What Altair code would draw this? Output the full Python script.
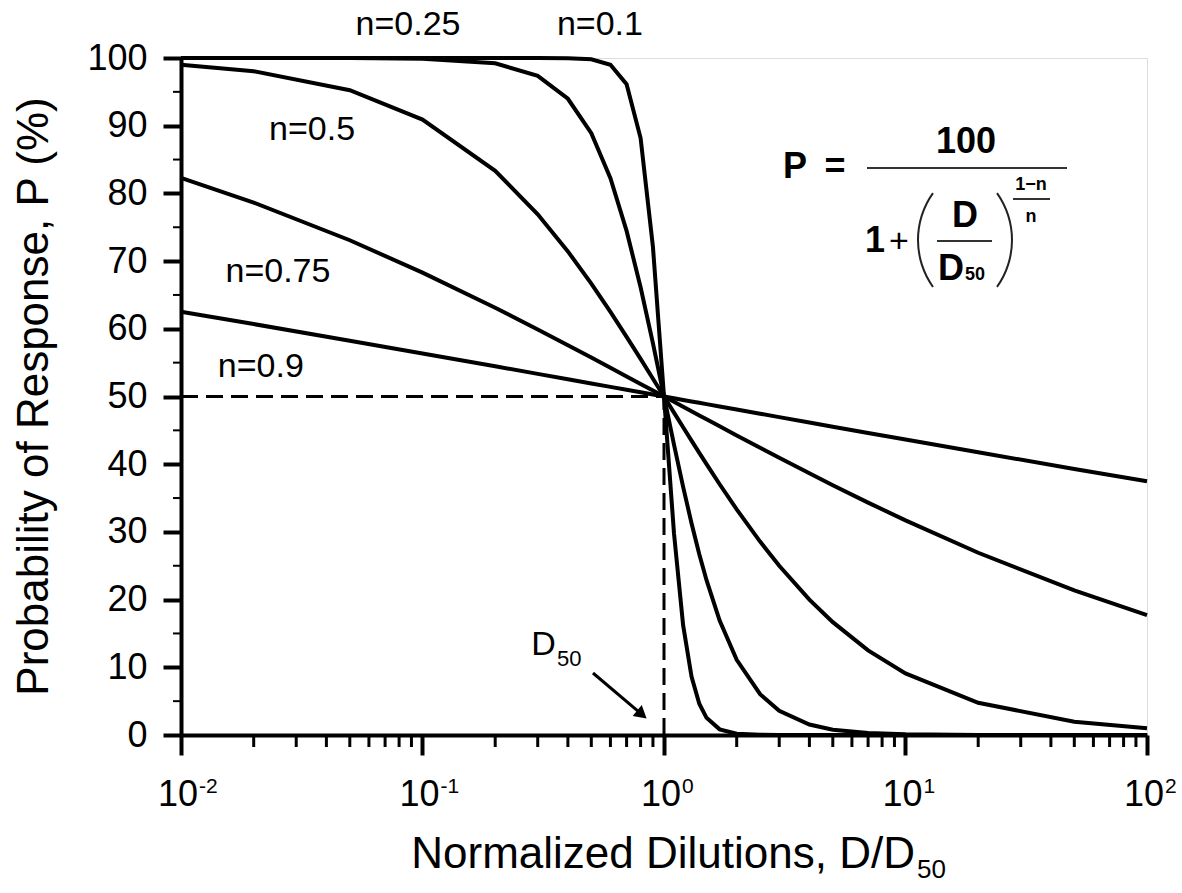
import altair as alt
import pandas as pd

FONT = "Liberation Sans"

# Normalized dilution D/D50 sample points
X = [0.01, 0.02, 0.05, 0.1, 0.2, 0.3, 0.4, 0.5, 0.6, 0.7, 0.8, 0.9, 1.0, 1.1, 1.2,
     1.3, 1.4, 1.5, 1.7, 2.0, 2.5, 3.0, 4.0, 5.0, 7.0, 10, 20, 50, 100]

# Probability of response P (%) for each n
P_N01 = [100.0, 100.0, 100.0, 100.0, 100.0, 100.0, 99.97, 99.81, 99.0, 96.12, 88.17, 72.08, 50.0,
         29.78, 16.23, 8.62, 4.62, 2.54, 0.84, 0.19, 0.03, 0.0, 0.0, 0.0, 0.0, 0.0, 0.0, 0.0, 0.0]
P_N025 = [100.0, 100.0, 99.99, 99.9, 99.21, 97.37, 93.98, 88.89, 82.24, 74.46, 66.14, 57.84, 50.0,
          42.9, 36.66, 31.28, 26.71, 22.86, 16.91, 11.11, 6.02, 3.57, 1.54, 0.79, 0.29, 0.1, 0.01, 0.0, 0.0]
P_N05 = [99.01, 98.04, 95.24, 90.91, 83.33, 76.92, 71.43, 66.67, 62.5, 58.82, 55.56, 52.63, 50.0,
         47.62, 45.45, 43.48, 41.67, 40.0, 37.04, 33.33, 28.57, 25.0, 20.0, 16.67, 12.5, 9.09, 4.76, 1.96, 0.99]
P_N075 = [82.28, 78.65, 73.08, 68.3, 63.1, 59.9, 57.58, 55.75, 54.25, 52.97, 51.86, 50.88, 50.0,
          49.21, 48.48, 47.81, 47.2, 46.63, 45.59, 44.25, 42.42, 40.95, 38.65, 36.9, 34.33, 31.7, 26.92, 21.35, 17.72]
P_N09 = [62.52, 60.7, 58.24, 56.36, 54.46, 53.34, 52.54, 51.92, 51.42, 50.99, 50.62, 50.29, 50.0,
         49.74, 49.49, 49.27, 49.07, 48.87, 48.52, 48.08, 47.46, 46.95, 46.16, 45.54, 44.62, 43.64, 41.76, 39.3, 37.48]

N_VALUES = ["0.1", "0.25", "0.5", "0.75", "0.9"]
SERIES = [P_N01, P_N025, P_N05, P_N075, P_N09]

# curve labels (text, x position, y position)
LABEL_TEXT = ["n=0.25", "n=0.1", "n=0.5", "n=0.75", "n=0.9"]
LABEL_X = [0.0871, 0.543, 0.0349, 0.0252, 0.0214]
LABEL_Y = [104.9, 104.9, 89.4, 68.4, 54.4]

# axes
X_MAJOR = [0.01, 0.1, 1, 10, 100]
X_EXP = ["-2", "-1", "0", "1", "2"]
X_MINOR = [m * d for d in [0.01, 0.1, 1, 10] for m in range(2, 10)]
Y_MAJOR = list(range(0, 101, 10))
Y_MINOR = list(range(5, 100, 10))

# reference lines at D50
REF_X = [0.01, 1.0]
REF_Y = [0, 50]

# arrow pointing at D50
ARROW_X = [0.508, 0.798]
ARROW_Y = [9.16, 3.23]

W, H = 966, 677
LW = 4

rows = []
for n, ser in zip(N_VALUES, SERIES):
    for xv, pv in zip(X, ser):
        rows.append({"n": n, "x": xv, "p": pv})
curves_df = pd.DataFrame(rows)

xscale = alt.Scale(type="log", domain=[0.01, 100], nice=False)
yscale = alt.Scale(domain=[0, 100], nice=False, zero=False)

xenc = alt.X("x:Q", scale=xscale,
             axis=alt.Axis(values=X_MAJOR, labels=False, title=None, grid=False,
                           tickSize=20, tickWidth=LW, domainWidth=LW,
                           tickColor="black", domainColor="black"))
yenc = alt.Y("p:Q", scale=yscale,
             axis=alt.Axis(values=Y_MAJOR, title=None, grid=False, tickSize=18, tickWidth=LW,
                           domainWidth=LW, tickColor="black", domainColor="black",
                           labelFont=FONT, labelFontSize=36, labelColor="black",
                           labelPadding=16))

curves = alt.Chart(curves_df).mark_line(color="black", strokeWidth=LW).encode(
    x=xenc, y=yenc, detail="n:N", order="x:Q"
)

ref_df = pd.DataFrame({
    "x": [REF_X[0], REF_X[1]], "x2": [REF_X[1], REF_X[1]],
    "p": [REF_Y[1], REF_Y[0]], "p2": [REF_Y[1], REF_Y[1]],
})
refs = alt.Chart(ref_df).mark_rule(color="black", strokeWidth=3, strokeDash=[17, 8]).encode(
    x=alt.X("x:Q", scale=xscale), x2="x2:Q",
    y=alt.Y("p:Q", scale=yscale), y2="p2:Q",
)

xminor = alt.Chart(pd.DataFrame({"x": X_MINOR})).mark_rule(color="black", strokeWidth=3).encode(
    x=alt.X("x:Q", scale=xscale), y=alt.value(H), y2=alt.value(H + 12)
)
yminor = alt.Chart(pd.DataFrame({"p": Y_MINOR})).mark_rule(color="black", strokeWidth=2).encode(
    y=alt.Y("p:Q", scale=yscale), x=alt.value(-8), x2=alt.value(0)
)

tick_df = pd.DataFrame({"x": X_MAJOR, "base": ["10"] * 5, "exp": X_EXP})
xlab_base = alt.Chart(tick_df).mark_text(font=FONT, fontSize=36, align="right",
                                          baseline="alphabetic", dx=17, color="black").encode(
    x=alt.X("x:Q", scale=xscale), y=alt.value(H + 71), text="base:N"
)
xlab_exp = alt.Chart(tick_df).mark_text(font=FONT, fontSize=21, align="left",
                                         baseline="alphabetic", dx=18, color="black").encode(
    x=alt.X("x:Q", scale=xscale), y=alt.value(H + 58), text="exp:N"
)

lab_df = pd.DataFrame({"t": LABEL_TEXT, "x": LABEL_X, "p": LABEL_Y})
labels = alt.Chart(lab_df).mark_text(font=FONT, fontSize=34, align="center",
                                      baseline="middle", color="black").encode(
    x=alt.X("x:Q", scale=xscale), y=alt.Y("p:Q", scale=yscale), text="t:N"
)

arrow_df = pd.DataFrame({"x": ARROW_X, "p": ARROW_Y})
arrow_line = alt.Chart(arrow_df).mark_line(color="black", strokeWidth=3).encode(
    x=alt.X("x:Q", scale=xscale), y=alt.Y("p:Q", scale=yscale)
)
arrow_head = alt.Chart(arrow_df.iloc[[1]]).mark_point(
    shape="triangle", filled=True, color="black", size=200, angle=130, opacity=1
).encode(x=alt.X("x:Q", scale=xscale), y=alt.Y("p:Q", scale=yscale))

d50_df = pd.DataFrame({"t": ["D", "50"], "x": [0.317, 0.3605], "p": [11.8, 10.2]})
d50_D = alt.Chart(d50_df.iloc[[0]]).mark_text(font=FONT, fontSize=34, align="center",
                                               baseline="alphabetic", color="black").encode(
    x=alt.X("x:Q", scale=xscale), y=alt.Y("p:Q", scale=yscale), text="t:N")
d50_s = alt.Chart(d50_df.iloc[[1]]).mark_text(font=FONT, fontSize=22, align="left",
                                               baseline="alphabetic", color="black").encode(
    x=alt.X("x:Q", scale=xscale), y=alt.Y("p:Q", scale=yscale), text="t:N")

one = pd.DataFrame({"a": [0]})


def txt(text, x, y, size, weight="normal", align="center", baseline="alphabetic", angle=0):
    kw = dict(text=text, font=FONT, fontSize=size, fontWeight=weight, align=align,
              baseline=baseline, color="black")
    if angle:
        kw["angle"] = angle
    return alt.Chart(one).mark_text(**kw).encode(x=alt.value(x), y=alt.value(y))


def hbar(x1, x2, y, w=2):
    return alt.Chart(one).mark_rule(color="#333333", strokeWidth=w).encode(
        x=alt.value(x1), x2=alt.value(x2), y=alt.value(y))


def paren(cx, cy, t1, t2):
    return alt.Chart(one).mark_arc(theta=t1, theta2=t2, innerRadius=80, outerRadius=82,
                                   color="#222222").encode(x=alt.value(cx), y=alt.value(cy))


formula = [
    txt("P", 614, 120, 36, "bold"),
    txt("=", 654, 120, 36, "bold"),
    txt("100", 785, 95, 36, "bold"),
    hbar(686, 886, 110),
    txt("1", 694, 194, 36, "bold"),
    txt("+", 718, 194, 34),
    paren(818, 182, 4.094, 5.330),
    txt("D", 784, 169, 36, "bold"),
    hbar(756, 811, 183),
    txt("D", 770, 222, 36, "bold"),
    txt("50", 784, 222, 18, "bold", align="left"),
    paren(750, 182, 0.953, 2.189),
    txt("1\u2212n", 850, 132, 18, "bold"),
    hbar(832, 869, 141),
    txt("n", 850, 164, 18, "bold"),
]

titles = [
    txt("Probability of Response, P (%)", -146, H / 2, 44, baseline="middle", angle=270),
    txt("Normalized Dilutions, D/D", 734, 810, 44, align="right"),
    txt("50", 736, 820, 26, align="left"),
]

chart = alt.layer(
    refs, curves, xminor, yminor, xlab_base, xlab_exp, labels,
    arrow_line, arrow_head, d50_D, d50_s, *formula, *titles
).properties(
    width=W, height=H,
    autosize=alt.AutoSizeParams(type="none"),
    padding={"left": 181, "top": 58, "right": 35, "bottom": 158},
).configure_view(stroke="black", strokeWidth=LW).configure(background="white")

chart.save("out.html", embed_options={"renderer": "svg", "actions": False})
